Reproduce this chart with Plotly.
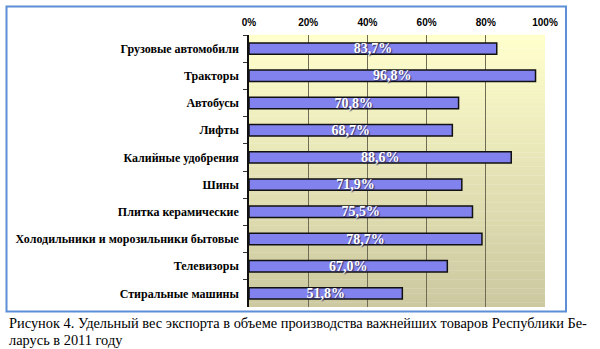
import plotly.graph_objects as go

categories = [
    "Грузовые автомобили",
    "Тракторы",
    "Автобусы",
    "Лифты",
    "Калийные удобрения",
    "Шины",
    "Плитка керамические",
    "Холодильники и морозильники бытовые",
    "Телевизоры",
    "Стиральные машины",
]
values = [83.7, 96.8, 70.8, 68.7, 88.6, 71.9, 75.5, 78.7, 67.0, 51.8]
x_ticks = [0, 20, 40, 60, 80, 100]
x_tick_labels = ["0%", "20%", "40%", "60%", "80%", "100%"]
caption_line1 = "Рисунок 4. Удельный вес экспорта в объеме производства важнейших товаров Республики Бе-"
caption_line2 = "ларусь в 2011 году"

labels = [f"{v:.1f}".replace(".", ",") + "%" for v in values]

W, H = 600, 349
L, R, T, B = 249, 545, 35, 307
pw, ph = R - L, B - T

def px_x(p):
    return (p - L) / pw

def px_y(p):
    return (B - p) / ph

fig = go.Figure()
fig.add_trace(go.Bar(
    x=values,
    y=categories,
    orientation="h",
    width=0.42,
    marker=dict(color="#8282EE", line=dict(color="#111111", width=1.5)),
    text=labels,
    textposition="inside",
    insidetextanchor="middle",
    textangle=0,
    textfont=dict(family="Liberation Serif", size=14, color="white", weight="bold",
                  shadow="1px 1px 1px #333366"),
    cliponaxis=False,
    hoverinfo="skip",
))

# gradient background for plot area
shapes = []
n = 60
top = (255, 255, 204)
bot = (204, 200, 160)
for i in range(n):
    t = i / (n - 1)
    c = tuple(round(top[k] + (bot[k] - top[k]) * t) for k in range(3))
    shapes.append(dict(type="rect", xref="paper", yref="paper",
                       x0=0, x1=1, y0=1 - (i + 1) / n, y1=1 - i / n + 0.001,
                       fillcolor="rgb(%d,%d,%d)" % c, line=dict(width=0), layer="below"))
# outer frame
shapes.append(dict(type="rect", xref="paper", yref="paper",
                   x0=px_x(6.5), x1=px_x(566), y0=px_y(311.5), y1=px_y(6.5),
                   line=dict(color="#5D8FD8", width=2), fillcolor="rgba(0,0,0,0)", layer="above"))
fig.update_layout(shapes=shapes)

fig.update_xaxes(
    side="top",
    range=[0, 100],
    tickvals=x_ticks,
    ticktext=x_tick_labels,
    tickfont=dict(family="Liberation Sans", size=10, color="#000000", weight="bold"),
    showgrid=True,
    gridcolor="#6E6C55",
    gridwidth=1,
    zeroline=False,
    showline=False,
    ticks="",
    ticklabelstandoff=6,
    layer="below traces",
)
fig.update_yaxes(
    autorange="reversed",
    tickson="boundaries",
    ticks="outside",
    ticklen=4,
    tickcolor="#333333",
    showline=True,
    linecolor="#111111",
    linewidth=1.5,
    showgrid=False,
    tickfont=dict(family="Liberation Serif", size=12, color="#000000", weight="bold"),
    ticklabelstandoff=6,
)

fig.add_annotation(xref="paper", yref="paper", x=px_x(7), y=px_y(323),
                   xanchor="left", yanchor="middle", showarrow=False,
                   text=caption_line1,
                   font=dict(family="Liberation Serif", size=14.4, color="#000000"))
fig.add_annotation(xref="paper", yref="paper", x=px_x(7), y=px_y(340),
                   xanchor="left", yanchor="middle", showarrow=False,
                   text=caption_line2,
                   font=dict(family="Liberation Serif", size=14.4, color="#000000"))

fig.update_layout(
    width=W, height=H,
    margin=dict(l=L, r=W - R, t=T, b=H - B),
    paper_bgcolor="white",
    plot_bgcolor="rgba(0,0,0,0)",
    showlegend=False,
    uniformtext=dict(mode="show", minsize=14),
)

fig.write_html("out.html")
